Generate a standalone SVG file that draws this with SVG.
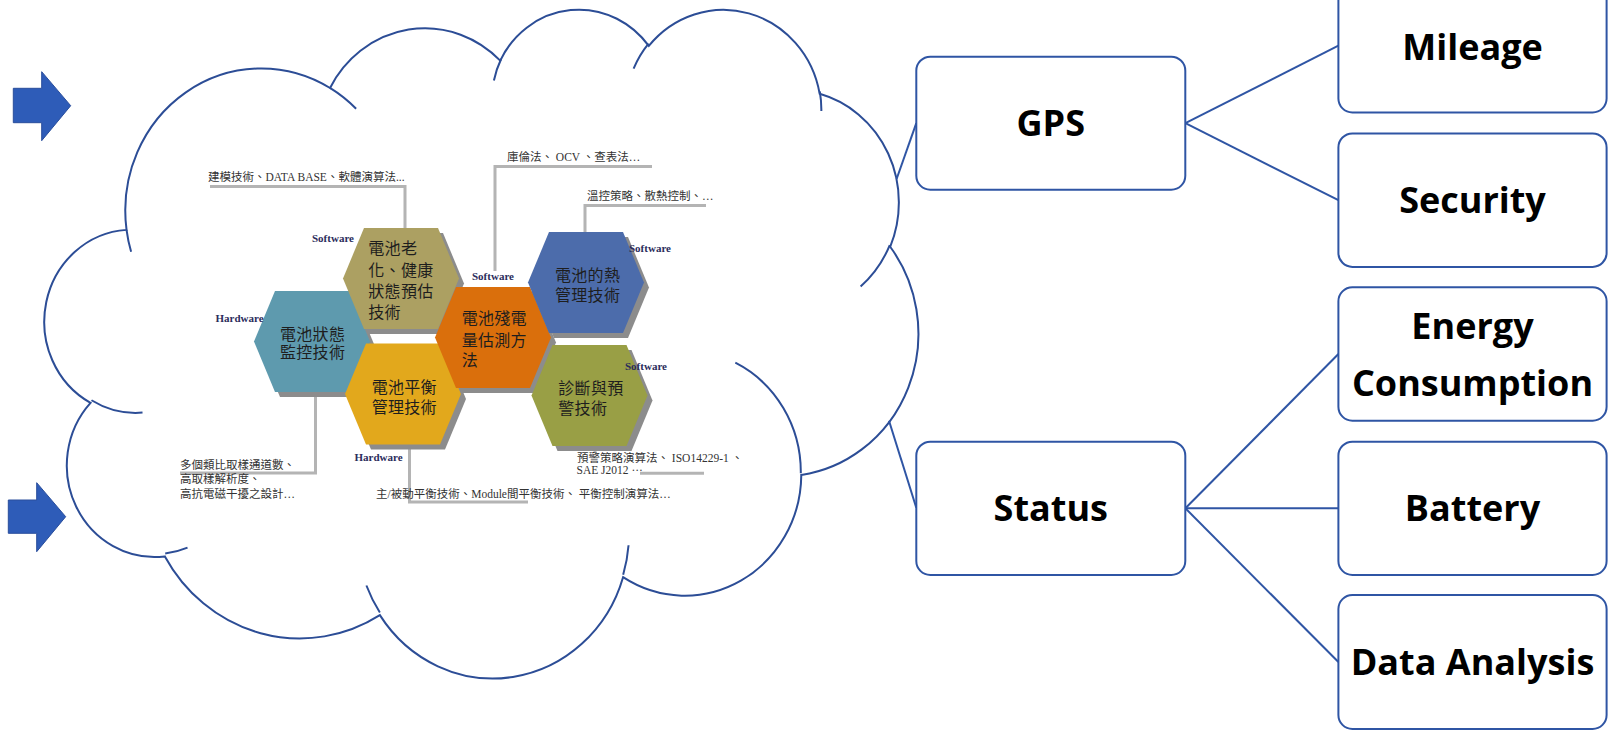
<svg xmlns="http://www.w3.org/2000/svg" xmlns:xlink="http://www.w3.org/1999/xlink" width="1609" height="731" viewBox="0 0 1609 731">
<defs>
<style>
.box{fill:#fff;stroke:#2F55A4;stroke-width:2}
.lbl{font-family:"Open Sans","Noto Sans",sans-serif;font-weight:700;font-size:36px;fill:#000;text-anchor:middle}
.conn{fill:none;stroke:#2F55A4;stroke-width:2}
.cloud{fill:#fff;stroke:#2C4D96;stroke-width:2;vector-effect:non-scaling-stroke}
.cin{fill:none;stroke:#2C4D96;stroke-width:2;vector-effect:non-scaling-stroke}
.arrow{fill:#2E5CB8;stroke:#2A4E9C;stroke-width:1}
.gl{fill:none;stroke:#B4B4B4;stroke-width:3}
.sh{fill:#8C8C8C}
.ht{font-family:"Noto Sans CJK TC","Noto Sans CJK SC",sans-serif;font-size:16px;fill:#1E1E1E;letter-spacing:0.3px}
.sw{font-family:"Liberation Serif",serif;font-weight:700;font-size:11px;fill:#2B2D5C}
.st{font-family:"Liberation Serif","Noto Sans CJK TC",serif;font-size:11.5px;fill:#333}
</style>
<polygon id="hex" points="0,50.5 21,0 95,0 116,50.5 95,101 21,101"/>
</defs>

<g id="arrows">
<polygon class="arrow" points="13.3,88.3 41.7,88.3 41.7,71.7 70.7,105.7 41.7,140.7 41.7,122.7 13.3,122.7"/>
<polygon class="arrow" points="8.3,500 36.7,500 36.7,482.7 65.7,516.7 36.7,551.7 36.7,533.3 8.3,533.3"/>
</g>

<g id="cloud" transform="translate(48 7.5) scale(0.020139 0.015475)">
<path class="cloud" d="M 3900 14370 A 6753 9190 0 0 1 14005 5202 A 5333 7267 0 0 1 22456 3433 A 4365 5945 0 0 1 29833 2482 A 4857 6595 0 0 1 38318 5578 A 5333 7273 0 0 1 41818 15462 A 6775 9220 0 0 1 37404 30205 A 5785 7867 0 0 1 28555 36815 A 6752 9215 0 0 1 16479 39266 A 7720 10543 0 0 1 5803 35471 A 4360 5918 0 0 1 2112 25548 A 4345 5945 0 0 1 3900 14370 Z"/>
<path class="cin" d="M 4693 26177 A 4345 5945 0 0 1 2159 25379 M 6928 34899 A 4360 5918 0 0 1 5820 35280 M 16478 39090 A 6752 9215 0 0 1 15810 37350 M 28827 34751 A 6752 9215 0 0 1 28560 36660 M 34129 22954 A 5785 7867 0 0 1 37381 30090 M 41798 15354 A 5333 7273 0 0 1 40350 18030 M 38324 5426 A 4857 6595 0 0 1 38400 6690 M 29078 3952 A 4857 6595 0 0 1 29820 2340 M 22141 4720 A 4365 5945 0 0 1 22500 3330 M 14000 5192 A 6753 9190 0 0 1 15300 6541 M 4127 15789 A 6753 9190 0 0 1 3900 14370"/>
</g>

<g id="battery-tech">
<g id="leader-lines">
<polyline class="gl" points="210,186.5 405,186.5 405,228"/>
<polyline class="gl" points="652,166.5 495,166.5 495,271"/>
<polyline class="gl" points="706,205.5 585,205.5 585,232"/>
<polyline class="gl" points="315.5,392 315.5,473 180,473"/>
<polyline class="gl" points="409.5,445 409.5,502 528,502"/>
<polyline class="gl" points="595,446 595,453"/>
<line class="gl" x1="640" y1="473.3" x2="704" y2="473.3"/>
</g>
<g id="hex-monitor">
<use href="#hex" class="sh" x="259" y="296"/>
<use href="#hex" x="254" y="291" fill="#5E9AAE"/>
<text class="ht" x="280" y="339.5">電池狀態</text>
<text class="ht" x="280" y="358">監控技術</text>
</g>
<g id="hex-aging">
<use href="#hex" class="sh" x="348" y="233"/>
<use href="#hex" x="343" y="228" fill="#ACA062"/>
<text class="ht" x="368.3" y="254.3">電池老</text>
<text class="ht" x="368.3" y="275.8">化、健康</text>
<text class="ht" x="368.3" y="297.3">狀態預估</text>
<text class="ht" x="368.3" y="318">技術</text>
</g>
<g id="hex-balance">
<use href="#hex" class="sh" x="350" y="348.5"/>
<use href="#hex" x="345" y="343.5" fill="#E2A81C"/>
<text class="ht" x="371.7" y="392.7">電池平衡</text>
<text class="ht" x="371.7" y="412.7">管理技術</text>
</g>
<g id="hex-soc">
<use href="#hex" class="sh" x="440" y="292"/>
<use href="#hex" x="435" y="287" fill="#DA6F0C"/>
<text class="ht" x="461.7" y="324.3">電池殘電</text>
<text class="ht" x="461.7" y="346">量估測方</text>
<text class="ht" x="461.7" y="366">法</text>
</g>
<g id="hex-thermal">
<use href="#hex" class="sh" x="533" y="237"/>
<use href="#hex" x="528" y="232" fill="#4C6CAB"/>
<text class="ht" x="555" y="281">電池的熱</text>
<text class="ht" x="555" y="301">管理技術</text>
</g>
<g id="hex-diag">
<use href="#hex" class="sh" x="536.5" y="350"/>
<use href="#hex" x="531.5" y="345" fill="#999F45"/>
<text class="ht" x="558.3" y="394.3">診斷與預</text>
<text class="ht" x="558.3" y="414.3">警技術</text>
</g>
<g id="tags">
<text class="sw" x="312" y="241.5">Software</text>
<text class="sw" x="215.5" y="321.5">Hardware</text>
<text class="sw" x="472" y="280">Software</text>
<text class="sw" x="629" y="252">Software</text>
<text class="sw" x="625" y="370">Software</text>
<text class="sw" x="354.5" y="460.5">Hardware</text>
</g>
<g id="notes">
<text class="st" x="208" y="180.5">建模技術、DATA BASE、軟體演算法...</text>
<text class="st" x="507" y="160.5">庫倫法、 OCV 、查表法…</text>
<text class="st" x="587" y="199.5">溫控策略、散熱控制、…</text>
<text class="st" x="180" y="468.5">多個類比取樣通道數、</text>
<text class="st" x="180" y="483">高取樣解析度、</text>
<text class="st" x="180" y="497.5">高抗電磁干擾之設計…</text>
<text class="st" x="577" y="461.5">預警策略演算法、 ISO14229-1 、</text>
<text class="st" x="576.5" y="474">SAE J2012 ···</text>
<text class="st" x="376" y="497.5">主/被動平衡技術、Module間平衡技術、 平衡控制演算法…</text>
</g>
</g>

<g id="connectors">
<line class="conn" x1="896.6" y1="179" x2="916.3" y2="123.2"/>
<line class="conn" x1="889" y1="420.7" x2="916.3" y2="507.7"/>
<line class="conn" x1="1185.4" y1="123.2" x2="1338.4" y2="45.7"/>
<line class="conn" x1="1185.4" y1="123.2" x2="1338.4" y2="200.2"/>
<line class="conn" x1="1185.4" y1="508.3" x2="1338.4" y2="354"/>
<line class="conn" x1="1185.4" y1="508.3" x2="1338.4" y2="508.3"/>
<line class="conn" x1="1185.4" y1="508.3" x2="1338.4" y2="662"/>
</g>

<g id="node-gps"><rect class="box" x="916.3" y="56.7" width="269" height="133" rx="14"/><text class="lbl" x="1050.8" y="136">GPS</text></g>
<g id="node-status"><rect class="box" x="916.3" y="441.7" width="269" height="133.3" rx="14"/><text class="lbl" x="1050.8" y="521">Status</text></g>
<g id="node-mileage"><rect class="box" x="1338.4" y="-21" width="268.2" height="133.5" rx="14"/><text class="lbl" x="1472.5" y="60">Mileage</text></g>
<g id="node-security"><rect class="box" x="1338.4" y="133.4" width="268.2" height="133.5" rx="14"/><text class="lbl" x="1472.5" y="213">Security</text></g>
<g id="node-energy"><rect class="box" x="1338.4" y="287.3" width="268.2" height="133.4" rx="14"/><text class="lbl" x="1472.5" y="338.5">Energy</text><text class="lbl" x="1472.5" y="395.5">Consumption</text></g>
<g id="node-battery"><rect class="box" x="1338.4" y="441.7" width="268.2" height="133.3" rx="14"/><text class="lbl" x="1472.5" y="521">Battery</text></g>
<g id="node-data"><rect class="box" x="1338.4" y="595" width="268.2" height="134" rx="14"/><text class="lbl" x="1472.5" y="674.5">Data Analysis</text></g>
</svg>
